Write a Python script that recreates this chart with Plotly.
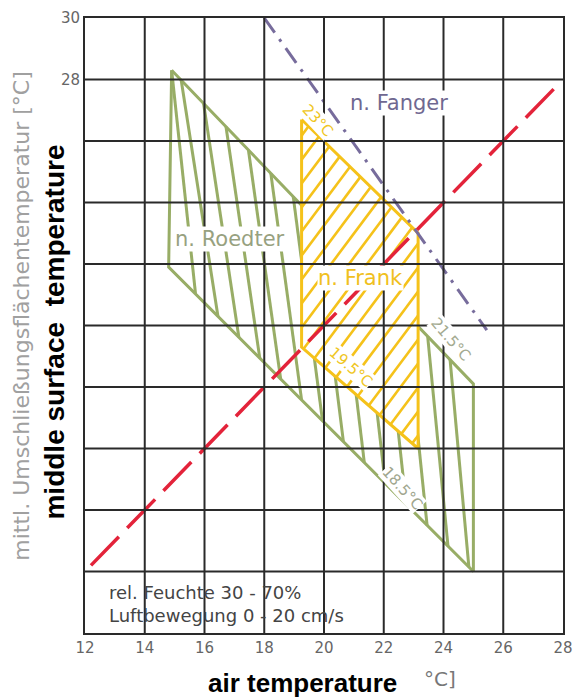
import numpy as np
import plotly.graph_objects as go

# ---------------- data ----------------
x_ticks = [12, 14, 16, 18, 20, 22, 24, 26, 28]
y_ticks = [10, 12, 14, 16, 18, 20, 22, 24, 26, 28, 30]
y_tick_text = ["", "", "", "", "", "", "", "", "", "28", "30"]

# comfort zone after Roedter (outline)
roedter_x = [14.9, 25.0, 25.0, 14.8]
roedter_y = [28.3, 18.1, 12.0, 21.9]
# hatch lines of the Roedter zone: start on upper edge, end on lower edge
roedter_hatch_top = [14.9, 15.22, 15.97, 16.72, 17.47, 18.22, 18.97, 19.72,
                     20.47, 21.22, 21.97, 22.72, 23.47, 24.22]
roedter_hatch_bot = [15.7, 16.45, 17.15, 17.85, 18.55, 19.25, 19.95, 20.65,
                     21.35, 22.05, 22.75, 23.45, 24.15, 24.85]

# comfort zone after Frank
frank_x = [19.25, 23.15, 23.15, 19.25]
frank_y = [26.7, 23.0, 16.0, 19.3]

# limit line after Fanger
fanger_x = [18.0, 25.45]
fanger_y = [30.0, 19.85]

# air temperature = surface temperature
equal_x = [12.2, 27.85]
equal_y = [12.2, 27.85]

# ---------------- styles ----------------
GREEN = "#98ad66"
GOLD = "#f5c21a"
PURPLE = "#776c9c"
RED = "#e3233a"
GRID = "#2a2a2a"


def clip_to_poly(p0, p1, poly):
    """Cyrus-Beck clipping of segment p0-p1 to a convex polygon."""
    p0 = np.asarray(p0, float)
    p1 = np.asarray(p1, float)
    poly = np.asarray(poly, float)
    c = poly.mean(axis=0)
    d = p1 - p0
    t0, t1 = 0.0, 1.0
    n = len(poly)
    for i in range(n):
        a = poly[i]
        b = poly[(i + 1) % n]
        e = b - a
        nrm = np.array([-e[1], e[0]])
        if np.dot(nrm, c - a) < 0:
            nrm = -nrm
        num = np.dot(nrm, p0 - a)
        den = np.dot(nrm, d)
        if abs(den) < 1e-12:
            if num < 0:
                return None
            continue
        t = -num / den
        if den > 0:
            t0 = max(t0, t)
        else:
            t1 = min(t1, t)
        if t0 > t1:
            return None
    return p0 + t0 * d, p0 + t1 * d


fig = go.Figure()

# Roedter outline
fig.add_trace(go.Scatter(
    x=roedter_x + [roedter_x[0]], y=roedter_y + [roedter_y[0]],
    mode="lines", line=dict(color=GREEN, width=3), hoverinfo="skip"))

# Roedter hatching
hx, hy = [], []
for xt, xb in zip(roedter_hatch_top, roedter_hatch_bot):
    yt = float(np.interp(xt, [roedter_x[0], roedter_x[1]], [roedter_y[0], roedter_y[1]]))
    yb = float(np.interp(xb, [roedter_x[3], roedter_x[2]], [roedter_y[3], roedter_y[2]]))
    hx += [xt, xb, None]
    hy += [yt, yb, None]
fig.add_trace(go.Scatter(x=hx, y=hy, mode="lines",
                         line=dict(color=GREEN, width=3), hoverinfo="skip"))

# Frank zone (white fill hides what lies beneath)
fig.add_trace(go.Scatter(
    x=frank_x + [frank_x[0]], y=frank_y + [frank_y[0]],
    mode="lines", fill="toself", fillcolor="white",
    line=dict(color=GOLD, width=3), hoverinfo="skip"))

# Frank hatching (diagonal, rising)
frank_poly = list(zip(frank_x, frank_y))
slope = 1.3
fx, fy = [], []
for cpos in np.arange(13.9, 26.6, 0.6):
    p0 = (cpos - 12.0, 20.0 - slope * 12.0)
    p1 = (cpos + 12.0, 20.0 + slope * 12.0)
    seg = clip_to_poly(p0, p1, frank_poly)
    if seg is None:
        continue
    a, b = seg
    if np.hypot(*(b - a)) < 0.15:
        continue
    fx += [a[0], b[0], None]
    fy += [a[1], b[1], None]
fig.add_trace(go.Scatter(x=fx, y=fy, mode="lines",
                         line=dict(color=GOLD, width=2.6), hoverinfo="skip"))

# Fanger dash-dot line
fig.add_trace(go.Scatter(x=fanger_x, y=fanger_y, mode="lines",
                         line=dict(color=PURPLE, width=3, dash="18px,8px,3px,8px"),
                         hoverinfo="skip"))

# red dashed equality line
fig.add_trace(go.Scatter(x=equal_x, y=equal_y, mode="lines",
                         line=dict(color=RED, width=3.5, dash="40px,12px"),
                         hoverinfo="skip"))

# grid lines drawn above the traces (as in the scanned original)
shapes = []
for xv in x_ticks[1:-1]:
    shapes.append(dict(type="line", xref="x", yref="y", x0=xv, x1=xv,
                       y0=y_ticks[0], y1=y_ticks[-1], layer="above",
                       line=dict(color=GRID, width=2)))
for yv in y_ticks[1:-1]:
    shapes.append(dict(type="line", xref="x", yref="y", y0=yv, y1=yv,
                       x0=x_ticks[0], x1=x_ticks[-1], layer="above",
                       line=dict(color=GRID, width=2)))

LBL = "DejaVu Sans"
annotations = [
    dict(x=22.52, y=27.22, text="n. Fanger", font=dict(family=LBL, size=21, color="#6f6891")),
    dict(x=16.85, y=22.82, text="n. Roedter", font=dict(family=LBL, size=21, color="#97a180")),
    dict(x=21.21, y=21.55, text="n. Frank", font=dict(family=LBL, size=21, color="#f0c020")),
    dict(x=19.77, y=26.67, text="23°C", textangle=47, font=dict(family=LBL, size=15, color="#efc624")),
    dict(x=20.89, y=18.64, text="19.5°C", textangle=41, font=dict(family=LBL, size=15, color="#efc624")),
    dict(x=24.23, y=19.55, text="21.5°C", textangle=49, font=dict(family=LBL, size=15, color="#a3aa90")),
    dict(x=22.62, y=14.72, text="18.5°C", textangle=48, font=dict(family=LBL, size=15, color="#a0a68e")),
]
for a in annotations:
    a.update(xref="x", yref="y", showarrow=False, bgcolor="white", borderpad=0)

annotations += [
    dict(x=12.75, y=10.95, xref="x", yref="y", xanchor="left", yanchor="middle",
         align="left", showarrow=False,
         text="rel. Feuchte 30 - 70%<br>Luftbewegung 0 - 20 cm/s",
         font=dict(family=LBL, size=18, color="#444444")),
    # original German axis title (partly visible)
    dict(x=-0.133, y=0.515, xref="paper", yref="paper", xanchor="center", yanchor="middle",
         textangle=-90, showarrow=False,
         text="mittl. Umschließungsflächentemperatur [°C]",
         font=dict(family=LBL, size=22, color="#a0a0a0")),
    # English overlay titles
    dict(x=-0.063, y=0.49, xref="paper", yref="paper", xanchor="center", yanchor="middle",
         textangle=-90, showarrow=False,
         text="<b>middle surface  temperature</b>",
         font=dict(family="Liberation Sans", size=28, color="black"),
         bgcolor="white"),
    dict(x=0.455, y=-0.081, xref="paper", yref="paper", xanchor="center", yanchor="middle",
         showarrow=False, text="<b>air temperature</b>",
         font=dict(family="Liberation Sans", size=26, color="black")),
    dict(x=0.742, y=-0.074, xref="paper", yref="paper", xanchor="center", yanchor="middle",
         showarrow=False, text="°C]", font=dict(family=LBL, size=20, color="#777777")),
]

fig.update_layout(
    width=582, height=700,
    margin=dict(l=85, r=9, t=15, b=67),
    paper_bgcolor="white", plot_bgcolor="white",
    showlegend=False,
    shapes=shapes,
    annotations=annotations,
    xaxis=dict(range=[12, 28], tickvals=x_ticks, ticktext=[str(v) for v in x_ticks],
               showgrid=False, zeroline=False, showline=True, mirror=True,
               linecolor=GRID, linewidth=2, ticks="",
               tickfont=dict(family=LBL, size=15, color="#666666")),
    yaxis=dict(range=[10, 30], tickvals=y_ticks, ticktext=y_tick_text,
               showgrid=False, zeroline=False, showline=True, mirror=True,
               linecolor=GRID, linewidth=2, ticks="",
               tickfont=dict(family=LBL, size=15, color="#666666")),
)

fig.write_html("out.html", config={"displayModeBar": False})
